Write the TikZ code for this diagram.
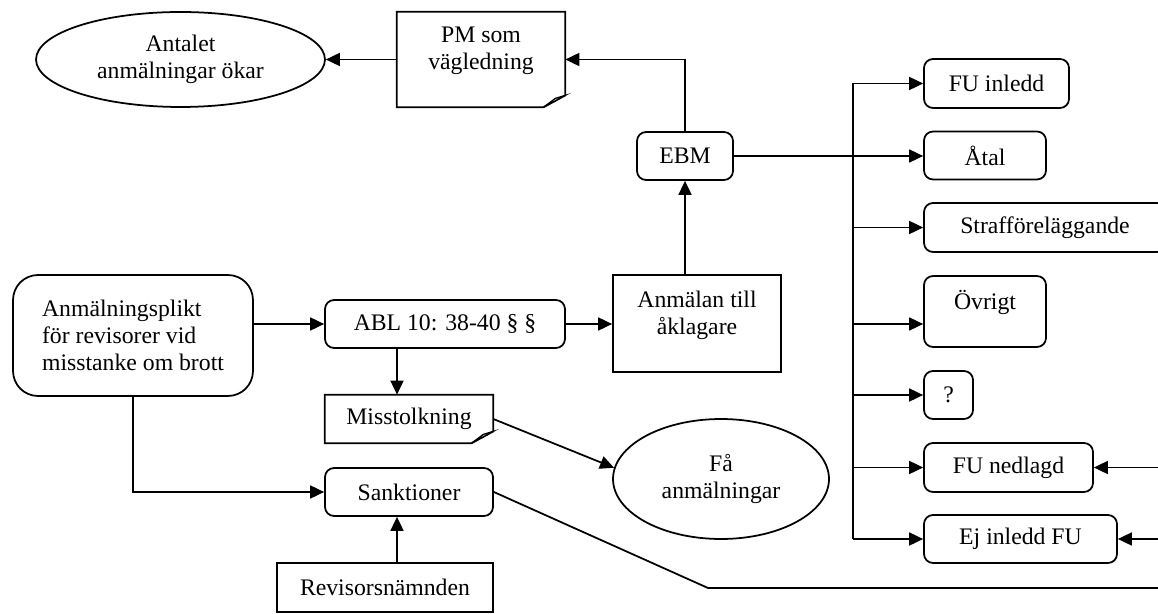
\documentclass[tikz,border=0pt]{standalone}
\usepackage{fontspec}
\setmainfont{Liberation Serif}
\usetikzlibrary{arrows.meta,shapes.geometric}

\tikzset{
  box/.style={draw, line width=1pt, inner sep=0pt, minimum height=0.96cm, align=center},
  rbox/.style={box, rounded corners=0.18cm},
  doc/.style={inner sep=0pt, minimum height=0.96cm, align=center},
  oval/.style={draw, ellipse, line width=1pt, inner sep=0pt, align=center},
  arr/.style={line width=1pt, -{Triangle[length=0.28cm,width=0.26cm]}},
  ln/.style={line width=1pt}
}

% dog-eared document outline around a node
\newcommand{\docshape}[1]{%
  \draw[ln] (#1.north west) -- (#1.north east) -- ([yshift=0.24cm]#1.south east)
    -- ([xshift=-0.44cm]#1.south east) -- (#1.south west) -- cycle;
  \filldraw[line width=0.7pt, fill=gray!35] ([yshift=0.24cm]#1.south east)
    -- ([xshift=-0.2cm,yshift=0.18cm]#1.south east) -- ([xshift=-0.44cm]#1.south east) -- cycle;}

\begin{document}
\begin{tikzpicture}[x=0.02cm, y=-0.02cm, font=\fontsize{13.5}{15.4}\selectfont]
\useasboundingbox (0,0) rectangle (1158,614);
\clip (0,0) rectangle (1158,614);
% top: reports and guidance
\node[oval, minimum width=5.78cm, minimum height=1.9cm] (antal) at (180.5,59.5) {Antalet\\anmälningar ökar};
\node[doc, minimum width=3.36cm, text height=1.16cm, text depth=0.74cm] (pm) at (481,59.5) {PM som\\vägledning};
\node[rbox, minimum width=1.92cm] (ebm) at (685,156) {EBM};
% middle: duty to report
\node[box, rounded corners=0.5cm, align=left, minimum width=4.8cm, minimum height=2.42cm] (plikt) at (133,335.5)
  {Anmälningsplikt\\för revisorer vid\\misstanke om brott};
\node[rbox, minimum width=4.8cm] (abl) at (445,324) {ABL 10: 38-40 § §};
\node[box, minimum width=3.36cm, text height=1.2cm, text depth=0.74cm] (anm) at (697,323.5) {Anmälan till\\åklagare};
\node[doc, minimum width=3.36cm] (mis) at (409,419) {Misstolkning};
\node[rbox, minimum width=3.36cm] (sank) at (409,492) {Sanktioner};
\node[box, minimum width=4.32cm, minimum height=0.98cm] (rev) at (385,587.5) {Revisorsnämnden};
\node[oval, minimum width=4.32cm, minimum height=2.4cm] (few) at (721,479) {Få\\anmälningar};
% right: outcomes
\node[rbox, minimum width=2.9cm, minimum height=0.98cm] (fuin) at (996.5,83.5) {FU inledd};
\node[rbox, minimum width=2.44cm] (atal) at (985,155.5) {Åtal};
\node[rbox, minimum width=4.84cm, minimum height=0.98cm] (straff) at (1045,227.5) {Strafföreläggande};
\node[rbox, minimum width=2.44cm, text height=0.68cm, text depth=0.74cm] (ovr) at (985,311.5) {Övrigt};
\node[rbox, minimum width=0.98cm] (fraga) at (948.5,395) {?};
\node[rbox, minimum width=3.38cm, minimum height=0.98cm] (funed) at (1008.5,467.5) {FU nedlagd};
\node[rbox, minimum width=3.86cm] (ejfu) at (1020.5,539) {Ej inledd FU};
\coordinate (bus) at (853,83);
\coordinate (rimA) at (1158,467.5);
\coordinate (rimB) at (1158,539);
\coordinate (knee) at (708,588);
\coordinate (rimC) at (1158,588);
\docshape{pm}
\docshape{mis}
% connectors
\draw[arr] (pm.west) -- (antal.east);
\draw[arr] (ebm.north) |- (pm.east);
\draw[arr] (ebm.south |- anm.north) -- (ebm.south);
\draw[arr] (abl.west -| plikt.east) -- (abl.west);
\draw[arr] (abl.east) -- (abl.east -| anm.west);
\draw[arr] ([xshift=-0.24cm]mis.north |- abl.south) -- ([xshift=-0.24cm]mis.north);
\draw[arr] (plikt.south) |- (sank.west);
\draw[arr] ([xshift=-0.24cm]sank.south |- rev.north) -- ([xshift=-0.24cm]sank.south);
\draw[arr] (mis.east) -- (few.174);
\draw[ln] (sank.east) -- (knee) -- (rimC);
\draw[arr] (ebm.east) -- (ebm.east -| atal.west);
\draw[ln] (bus |- fuin.west) -- (bus |- ejfu.west);
\foreach \n in {fuin,straff,fraga,funed,ejfu}
  \draw[arr] (bus |- \n.west) -- (\n.west);
\draw[arr] ([yshift=-0.25cm]ovr.west -| bus) -- ([yshift=-0.25cm]ovr.west);
\draw[arr] (rimA) -- (funed.east);
\draw[arr] (rimB) -- (ejfu.east);
\end{tikzpicture}
\end{document}
